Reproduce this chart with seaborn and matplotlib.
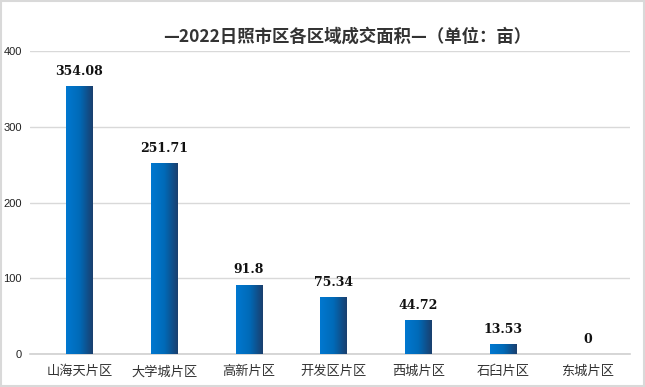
import matplotlib
matplotlib.use("Agg")
import matplotlib.pyplot as plt
import numpy as np
import pandas as pd
import seaborn as sns
from matplotlib.colors import LinearSegmentedColormap
from matplotlib.patches import Rectangle

# data
areas = ['山海天片区', '大学城片区', '高新片区', '开发区片区', '西城片区', '石臼片区', '东城片区']
values = [354.08, 251.71, 91.8, 75.34, 44.72, 13.53, 0]
value_labels = ['354.08', '251.71', '91.8', '75.34', '44.72', '13.53', '0']
yticks = [0, 100, 200, 300, 400]

df = pd.DataFrame({'area': areas, 'value': values})

sns.set_theme(style='white')
plt.rcParams['font.family'] = ['Noto Sans CJK SC', 'DejaVu Sans']

fig = plt.figure(figsize=(6.45, 3.87), dpi=100)
ax = fig.add_axes([0.047, 0.085, 0.93, 0.783])

sns.barplot(data=df, x='area', y='value', color='#0070c0', width=0.31, ax=ax)

# horizontal gradient on each bar (bright blue -> dark navy)
cmap = LinearSegmentedColormap.from_list('bar', ['#0078d0', '#006ab8', '#1a3f6e'])
grad = np.linspace(0, 1, 64).reshape(1, -1)
for p in ax.patches:
    x0, y0 = p.get_x(), p.get_y()
    w, h = p.get_width(), p.get_height()
    if h <= 0:
        continue
    im = ax.imshow(grad, cmap=cmap, aspect='auto', extent=[x0, x0 + w, y0, y0 + h], zorder=3)
    im.set_clip_path(Rectangle((x0, y0), w, h, transform=ax.transData))
    p.set_visible(False)

# value labels
for i, (v, lab) in enumerate(zip(values, value_labels)):
    ax.text(i, v + 11, lab, ha='center', va='bottom', fontsize=9, fontweight='bold',
            family='DejaVu Serif', color='#111111', zorder=4)

ax.set_xlim(-0.58, 6.5)
ax.set_ylim(0, 400)
ax.set_yticks(yticks)
ax.set_yticklabels([str(t) for t in yticks], fontsize=8, family='Liberation Sans', color='#222222')
ax.tick_params(axis='y', length=0, pad=6)
ax.tick_params(axis='x', length=0, pad=8, labelsize=9.5, colors='#333333')
ax.yaxis.grid(True, color='#d9d9d9', linewidth=1)
ax.set_axisbelow(True)
for s in ['top', 'right', 'left']:
    ax.spines[s].set_visible(False)
ax.spines['bottom'].set_color('#d0d0d0')
ax.spines['bottom'].set_linewidth(1.2)
ax.set_xlabel('')
ax.set_ylabel('')

# title
fig.text(0.538, 0.905, '—2022日照市区各区域成交面积—（单位：亩）', ha='center', va='center',
         fontsize=12.5, fontweight='bold', color='#333333')

# outer frame
fig.patches.append(Rectangle((0.002, 0.003), 0.996, 0.994, transform=fig.transFigure,
                             fill=False, edgecolor='#d9d9d9', linewidth=1.5))

fig.savefig('out.png', dpi=100)
